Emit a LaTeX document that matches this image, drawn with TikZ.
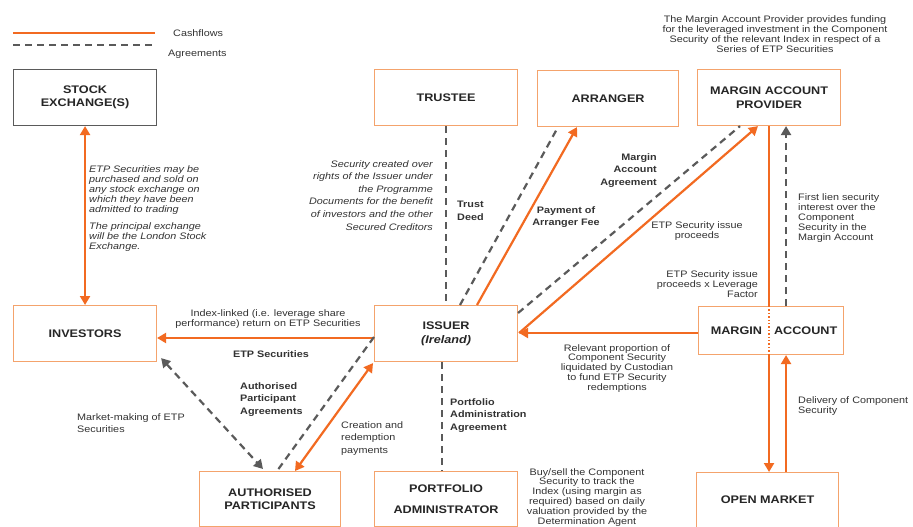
\documentclass[tikz,border=0pt]{standalone}
\usepackage{fontspec}
\setmainfont{Liberation Sans}[FakeStretch=1.15]
\usetikzlibrary{arrows.meta,calc}
\definecolor{orarrow}{HTML}{F26A21}
\definecolor{orbox}{HTML}{F4A36C}
\definecolor{gline}{HTML}{5A5A5A}
\definecolor{txt}{HTML}{333333}
\begin{document}
\begin{tikzpicture}[x=1pt,y=-1pt,
 box/.style={draw=orbox,line width=1.1pt,fill=white,minimum width=143pt,minimum height=56pt,
   font=\fontsize{11}{13.5}\selectfont\bfseries,align=center,text=black!85,anchor=north west,inner sep=2pt},
 graybox/.style={box,draw=gline},
 cash/.style={draw=orarrow,line width=2.2pt},
 agr/.style={draw=gline,line width=2.2pt,dash pattern=on 7pt off 5pt},
 tipo/.style={-{Triangle[length=9pt,width=10pt,fill=orarrow]}},
 tipob/.style={{Triangle[length=9pt,width=10pt,fill=orarrow]}-{Triangle[length=9pt,width=10pt,fill=orarrow]}},
 tipg/.style={-{Triangle[length=9pt,width=10pt,fill=gline]}},
 tipgb/.style={{Triangle[length=9pt,width=10pt,fill=gline]}-{Triangle[length=9pt,width=10pt,fill=gline]}},
 lbl/.style={font=\fontsize{9.4}{10}\selectfont,text=txt,inner sep=0pt},
 lblb/.style={font=\fontsize{9.4}{12.6}\selectfont\bfseries,text=txt,inner sep=0pt},
 lbli/.style={font=\fontsize{9.4}{10}\selectfont\itshape,text=txt,inner sep=0pt},
]
\path[use as bounding box] (0,0) rectangle (913,527);
\clip (0,0) rectangle (913,527);
\fill[white] (0,0) rectangle (913,527);

% legend
\coordinate (la) at (13,33);
\coordinate (lb) at (155,33);
\coordinate (lc) at (13,45);
\coordinate (ld) at (155,45);
\draw[cash] (la) -- (lb);
\draw[agr] (lc) -- (ld);
\node[lbl,anchor=west] (lgc) at (173,33) {Cashflows};
\node[lbl,anchor=west] (lga) at (168,54) {Agreements};

% boxes
\node[graybox] (se) at (13,69) {STOCK\\EXCHANGE(S)};
\node[box] (tr) at (374,69) {TRUSTEE};
\node[box,minimum width=141pt] (arr) at (537,70) {ARRANGER};
\node[box] (map) at (697,69) {MARGIN ACCOUNT\\PROVIDER};
\node[box] (inv) at (13,305) {INVESTORS};
\node[box] (iss) at (374,305) {ISSUER\\\textit{(Ireland)}};
\node[box,minimum width=145pt,minimum height=48pt] (ma) at (698,306) {\hspace{6pt}MARGIN\hspace{12pt}ACCOUNT};
\node[box,minimum width=141pt,minimum height=55pt] (ap) at (199,471) {AUTHORISED\\PARTICIPANTS};
\node[box,minimum height=55pt] (pa) at (374,471) {PORTFOLIO\\[7pt]ADMINISTRATOR};
\node[box,minimum width=142pt,minimum height=55pt] (om) at (696,472) {OPEN MARKET};

% connectors
\draw[cash,tipob] (se.south) -- (inv.north);
\draw[agr] (tr.south) -- (iss.north);
\draw[agr] ($(iss.south)+(-4,0)$) coordinate (pa1) -- (pa1 |- pa.north);

\coordinate (i1) at ($(iss.north west)+(103,0)$);
\coordinate (a1) at ($(arr.south west)+(40,0)$);
\draw[cash,tipo] (i1) -- (a1);
\coordinate (i2) at ($(iss.north west)+(86,0)$);
\coordinate (a2) at ($(arr.south west)+(21,0)$);
\draw[agr] (i2) -- (a2);

\coordinate (i3) at ($(iss.north east)+(0,8)$);
\coordinate (m3) at ($(map.south west)+(43,0)$);
\draw[agr] (i3) -- (m3);
\coordinate (i4) at ($(iss.north east)+(1,28)$);
\coordinate (m4) at ($(map.south west)+(61,0)$);
\draw[cash,tipo] (i4) -- (m4);
\coordinate (ma4) at ($(ma.north west)+(0,27)$);
\draw[cash,tipo] (ma4) -- (i4);

\coordinate (v1) at (map.south |- ma.north);
\coordinate (v2) at (map.south |- ma.south);
\coordinate (v3) at (map.south |- om.north);
\draw[cash] (map.south) -- (v1);
\draw[draw=orarrow,line width=1.4pt,dotted] (v1) -- (v2);
\draw[cash,tipo] (v2) -- (v3);

\coordinate (c1) at ($(ma.north)+(15,0)$);
\draw[agr,tipg] (c1) -- (c1 |- map.south);
\coordinate (c2) at (c1 |- om.north);
\draw[cash,tipo] (c2) -- (c1 |- ma.south);

\coordinate (i5) at ($(iss.north west)+(0,33)$);
\draw[cash,tipo] (i5) -- (i5 -| inv.east);

\coordinate (i6) at ($(iss.north west)+(0,32)$);
\coordinate (p6) at ($(ap.north west)+(78,0)$);
\draw[agr] (i6) -- (p6);
\coordinate (n7) at ($(inv.south east)+(4,-4)$);
\coordinate (p7) at ($(ap.north west)+(64,-2)$);
\draw[agr,tipgb] (n7) -- (p7);
\coordinate (i8) at ($(iss.south west)+(-1,1)$);
\coordinate (p8) at ($(ap.north west)+(96,0)$);
\draw[cash,tipob] (i8) -- (p8);

% labels
\node[lbli,anchor=north west,align=left] (t1) at (89,165) {ETP Securities may be\\purchased and sold on\\any stock exchange on\\which they have been\\admitted to trading\\[7pt]The principal exchange\\will be the London Stock\\Exchange.};
\node[lbli,anchor=north east,align=right,font=\fontsize{9.4}{12.6}\selectfont\itshape] (t2) at (433,160) {Security created over\\rights of the Issuer under\\the Programme\\Documents for the benefit\\of investors and the other\\Secured Creditors};
\node[lblb,anchor=north west,align=left] (t3) at (457,201) {Trust\\Deed};
\node[lblb,anchor=north,align=center] (t4) at (566,206) {Payment of\\Arranger Fee};
\node[lblb,anchor=north east,align=right] (t5) at (657,153) {Margin\\Account\\Agreement};
\node[lbl,anchor=north,align=center] (t6) at (697,221) {ETP Security issue\\proceeds};
\node[lbl,anchor=north west,align=left] (t7) at (798,193) {First lien security\\interest over the\\Component\\Security in the\\Margin Account};
\node[lbl,anchor=north,align=center] (t8) at (775,15) {The Margin Account Provider provides funding\\for the leveraged investment in the Component\\Security of the relevant Index in respect of a\\Series of ETP Securities};
\node[lbl,anchor=north east,align=right] (t9) at (758,270) {ETP Security issue\\proceeds x Leverage\\Factor};
\node[lbl,anchor=north,align=center] (t10) at (268,309) {Index-linked (i.e. leverage share\\performance) return on ETP Securities};
\node[lblb,anchor=north] (t11) at (271,350) {ETP Securities};
\node[lblb,anchor=north west,align=left] (t12) at (240,382) {Authorised\\Participant\\Agreements};
\node[lbl,anchor=north west,align=left,font=\fontsize{9.4}{12.5}\selectfont] (t13) at (77,413) {Market-making of ETP\\Securities};
\node[lbl,anchor=north west,align=left,font=\fontsize{9.4}{12.5}\selectfont] (t14) at (341,421) {Creation and\\redemption\\payments};
\node[lblb,anchor=north west,align=left] (t15) at (450,398) {Portfolio\\Administration\\Agreement};
\node[lbl,anchor=north,align=center,font=\fontsize{9.4}{9.8}\selectfont] (t16) at (617,344) {Relevant proportion of\\Component Security\\liquidated by Custodian\\to fund ETP Security\\redemptions};
\node[lbl,anchor=north west,align=left] (t17) at (798,396) {Delivery of Component\\Security};
\node[lbl,anchor=north,align=center,font=\fontsize{9.4}{9.8}\selectfont] (t18) at (587,468) {Buy/sell the Component\\Security to track the\\Index (using margin as\\required) based on daily\\valuation provided by the\\Determination Agent};
\end{tikzpicture}
\end{document}
